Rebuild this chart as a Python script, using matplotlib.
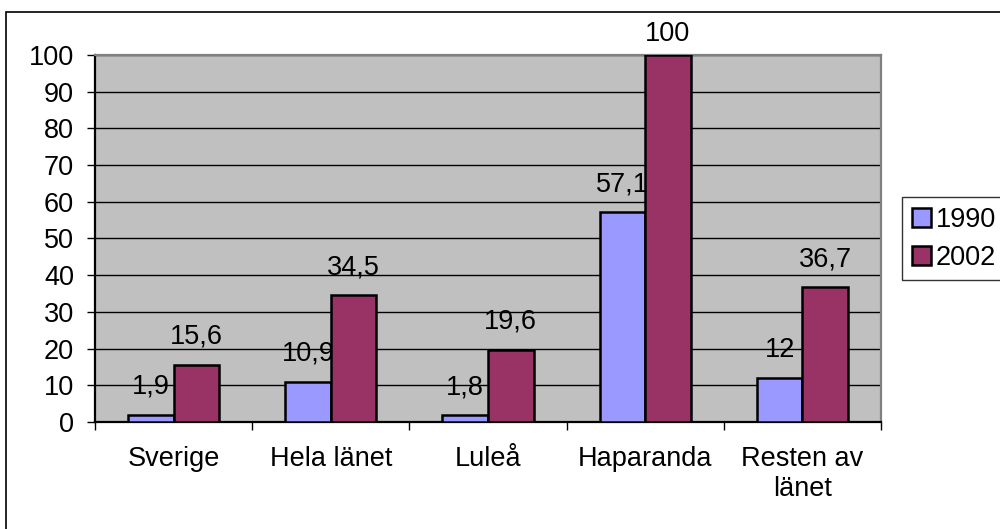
import numpy as np
import matplotlib.pyplot as plt
from matplotlib.patches import Rectangle

categories = ["Sverige", "Hela länet", "Luleå", "Haparanda", "Resten av\nlänet"]
series_names = ["1990", "2002"]
values_1990 = [1.9, 10.9, 1.8, 57.1, 12]
values_2002 = [15.6, 34.5, 19.6, 100, 36.7]
yticks = [0, 10, 20, 30, 40, 50, 60, 70, 80, 90, 100]


def fmt(v):
    s = f"{v:g}"
    return s.replace(".", ",")


def main():
    plt.rcParams["font.family"] = ["Liberation Sans", "DejaVu Sans"]
    colors = ["#9999FF", "#993366"]
    fs = 19.5

    fig = plt.figure(figsize=(10, 5.29), dpi=100)
    ax = fig.add_axes([0.095, 0.2023, 0.786, 0.6938])
    ax.set_facecolor("#C0C0C0")

    x = np.arange(len(categories))
    width = 0.29
    for i, vals in enumerate([values_1990, values_2002]):
        pos = x + (i - 0.5) * width
        ax.bar(pos, vals, width, color=colors[i], edgecolor="black",
               linewidth=1.8, zorder=3, label=series_names[i])
        for p, v in zip(pos, vals):
            off = 6 if v >= 100 else 11
            ax.annotate(fmt(v), (p, v), xytext=(0, off), textcoords="offset points",
                        ha="center", va="bottom", fontsize=fs, zorder=2,
                        annotation_clip=False)

    ax.set_xlim(-0.5, len(categories) - 0.5)
    ax.set_ylim(0, 100)
    ax.set_yticks(yticks)
    ax.set_yticklabels([str(t) for t in yticks])
    ax.yaxis.grid(True, color="black", linewidth=1.0, zorder=1)
    ax.set_axisbelow(True)

    ax.set_xticks(np.arange(len(categories) + 1) - 0.5, minor=False)
    ax.set_xticklabels([""] * (len(categories) + 1))
    ax.set_xticks(x, minor=True)
    ax.set_xticklabels(categories, minor=True, linespacing=1.22)
    ax.tick_params(axis="x", which="minor", length=0, pad=17, labelsize=fs)
    ax.tick_params(axis="x", which="major", length=6, width=1.0, color="black")
    ax.tick_params(axis="y", length=6, width=1.0, pad=9, labelsize=fs)

    ax.spines["left"].set_color("black")
    ax.spines["bottom"].set_color("black")
    ax.spines["top"].set_color("#808080")
    ax.spines["right"].set_color("#808080")
    for s in ax.spines.values():
        s.set_linewidth(1.6)

    leg = ax.legend(loc="center left", bbox_to_anchor=(1.027, 0.499), fontsize=fs,
                    frameon=True, fancybox=False, edgecolor="black",
                    handlelength=0.7, handleheight=0.7, handletextpad=0.2,
                    labelspacing=0.45, borderpad=0.35, borderaxespad=0)
    leg.get_frame().set_linewidth(1.0)

    fig.patches.append(Rectangle((0.006, -0.05), 1.1, 1.027, transform=fig.transFigure,
                                 fill=False, edgecolor="black", linewidth=1.2))

    plt.savefig("out.png", dpi=100)
    plt.close()


if __name__ == "__main__":
    main()
